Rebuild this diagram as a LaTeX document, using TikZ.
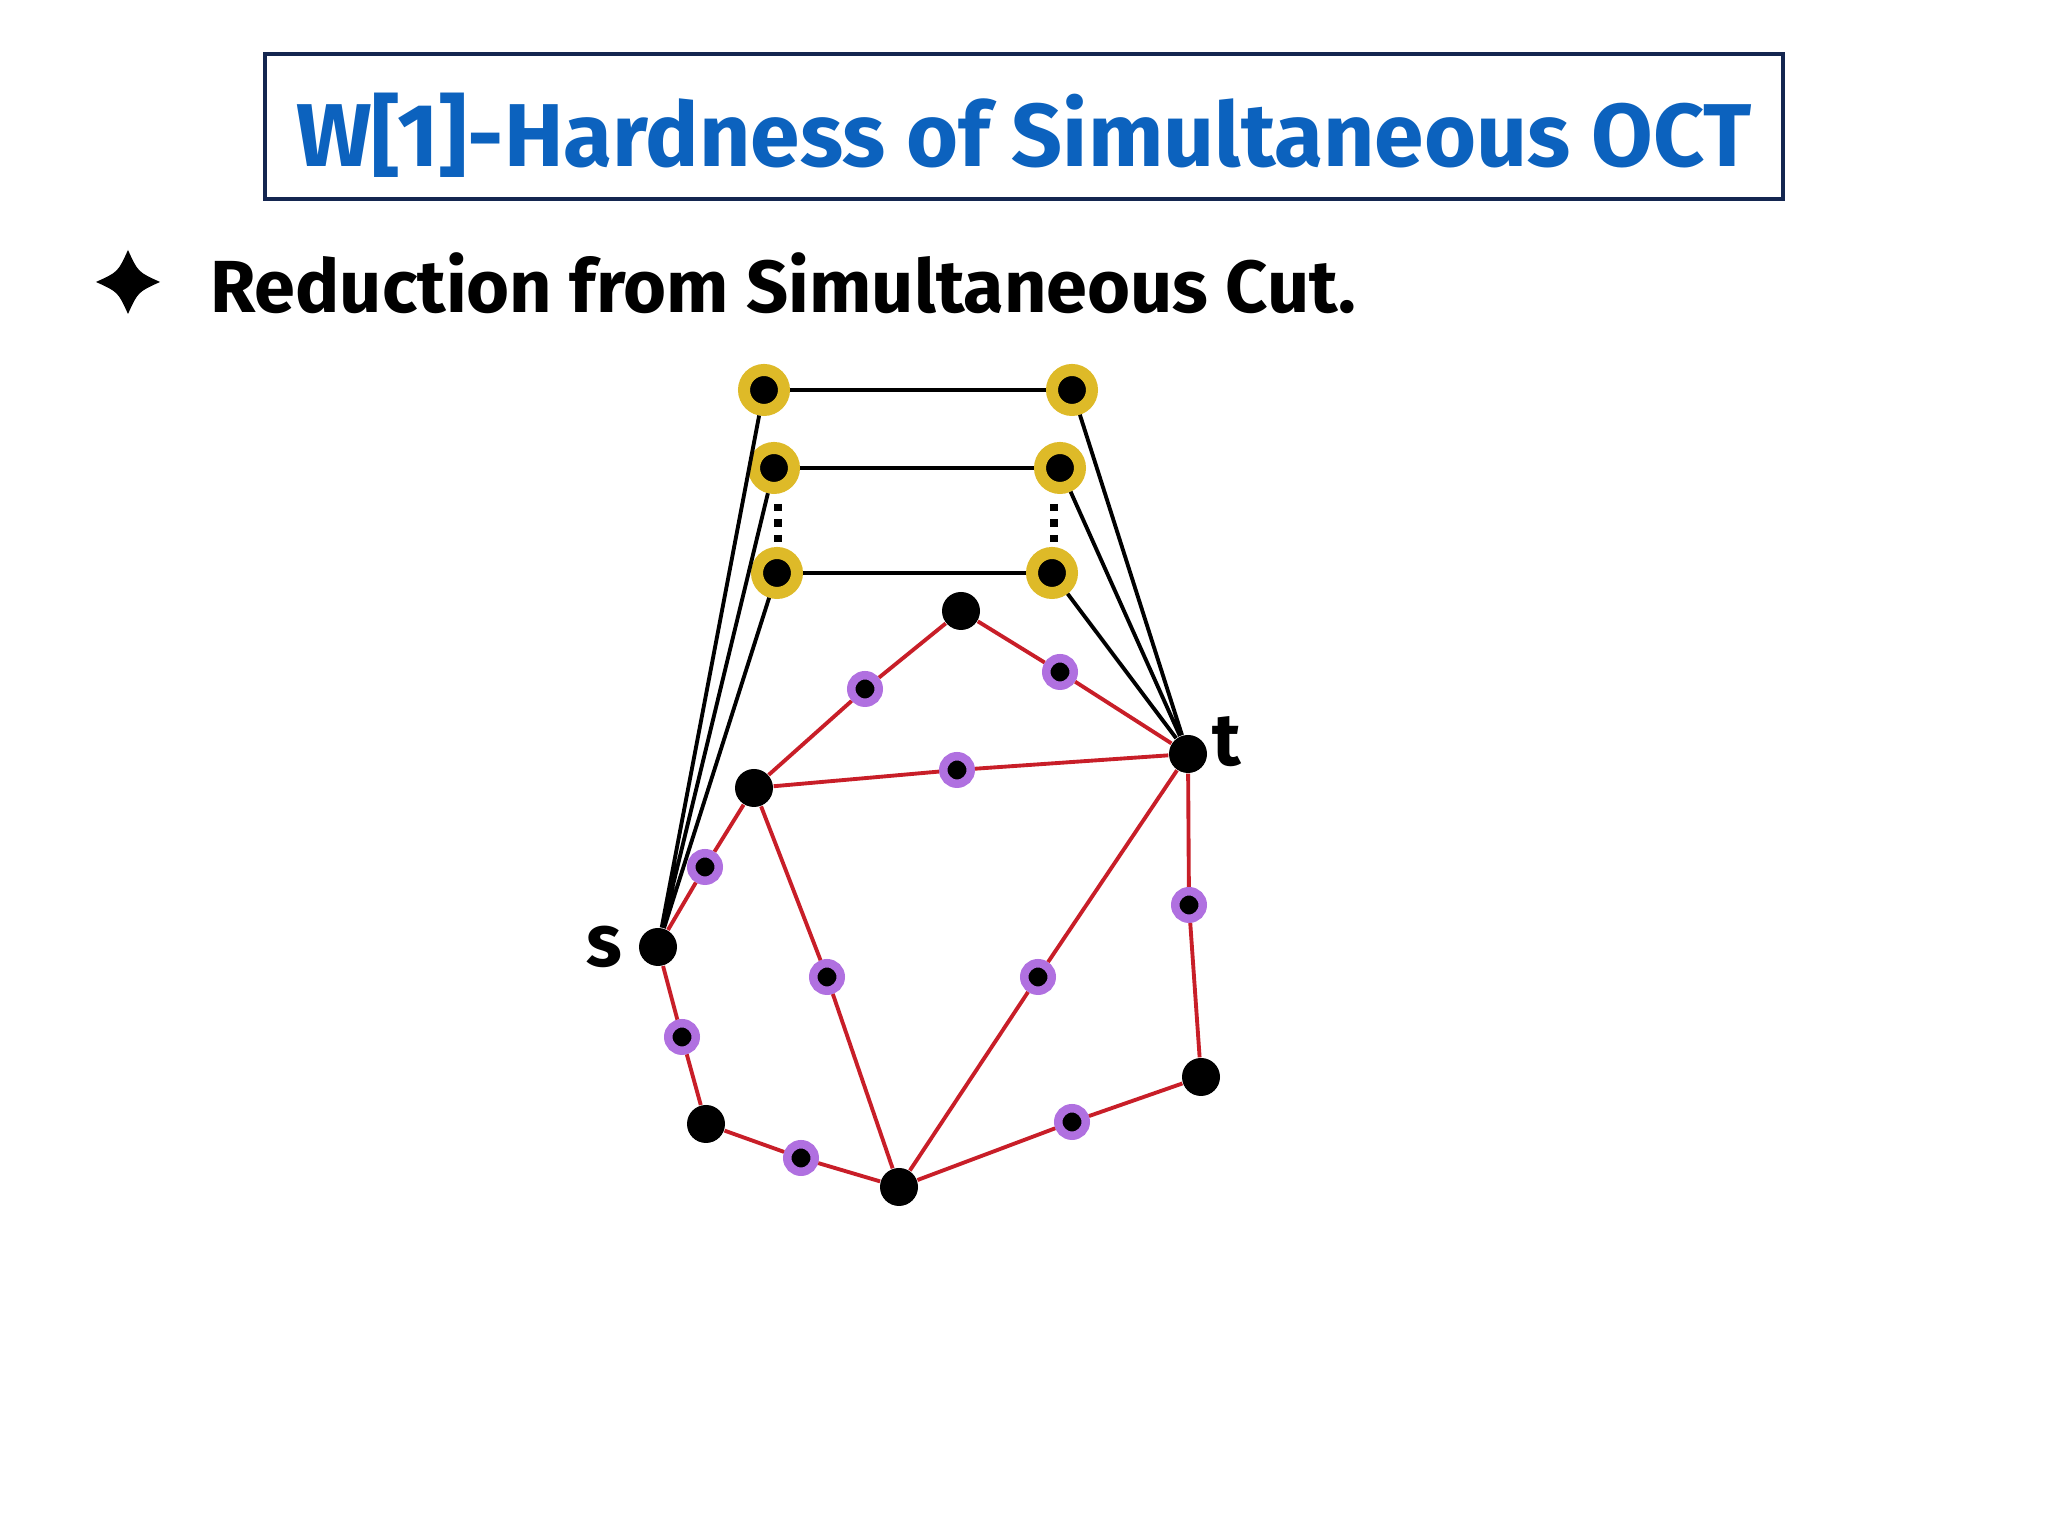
\documentclass[tikz,border=0pt]{standalone}
\usepackage{fontspec}
\setmainfont{Fira Sans}
\usetikzlibrary{positioning}
\definecolor{titleblue}{RGB}{12,98,190}
\definecolor{framenavy}{RGB}{20,38,80}
\definecolor{edgered}{RGB}{200,30,40}
\definecolor{ringgold}{RGB}{222,186,40}
\definecolor{ringpurple}{RGB}{176,112,224}
\tikzset{
    vtx/.style={circle, fill=black, inner sep=0pt, minimum size=0.38cm},
    goldvtx/.style={circle, fill=black, draw=ringgold, line width=0.12cm, inner sep=0pt, minimum size=0.40cm},
    subvtx/.style={circle, fill=black, draw=ringpurple, line width=0.085cm, inner sep=0pt, minimum size=0.275cm},
    redge/.style={draw=edgered, line width=1.1pt},
    bedge/.style={draw=black, line width=1.1pt},
    lbl/.style={inner sep=0pt, font=\fontsize{21}{25}\selectfont\bfseries}
}

\begin{document}
\begin{tikzpicture}
\useasboundingbox (0,0) rectangle (20.48,15.36);

% title
\draw[framenavy, line width=1.4pt] (2.65,13.37) rectangle (17.83,14.82);
\node[anchor=base, text=titleblue, font=\fontsize{25.4}{30}\selectfont\bfseries] (title) at (10.24,13.69) {W[1]-Hardness of Simultaneous OCT};

% bullet
\begin{scope}[shift={(1.28,12.54)}]
    \fill (0,0.32) .. controls (0.1,0.1) and (0.1,0.1) .. (0.32,0)
        .. controls (0.1,-0.1) and (0.1,-0.1) .. (0,-0.32)
        .. controls (-0.1,-0.1) and (-0.1,-0.1) .. (-0.32,0)
        .. controls (-0.1,0.1) and (-0.1,0.1) .. cycle;
\end{scope}
\node[anchor=base west, font=\fontsize{21}{25}\selectfont\bfseries] (sub) at (1.98,12.23) {Reduction from Simultaneous Cut.};

% gadget on top
\node[goldvtx] (y1l) at (7.64,11.46) {};
\node[goldvtx] (y1r) at (10.72,11.46) {};
\node[goldvtx] (y2l) at (7.74,10.68) {};
\node[goldvtx] (y2r) at (10.60,10.68) {};
\node[goldvtx] (y3l) at (7.77,9.63) {};
\node[goldvtx] (y3r) at (10.52,9.63) {};
\draw[line width=0.75mm, dash pattern=on 0.75mm off 0.8mm] (7.78,10.32) -- (7.78,9.93);
\draw[line width=0.75mm, dash pattern=on 0.75mm off 0.8mm] (10.54,10.32) -- (10.54,9.93);

% main vertices
\node[vtx] (top) at (9.61,9.25) {};
\node[vtx] (t) at (11.88,7.82) {};
\node[vtx] (mid) at (7.54,7.48) {};
\node[vtx] (s) at (6.58,5.89) {};
\node[vtx] (bl) at (7.06,4.12) {};
\node[vtx] (bot) at (8.99,3.49) {};
\node[vtx] (br) at (12.01,4.59) {};
\node[lbl, left=0.15cm of s] {s};
\node[lbl, right=0.04cm of t, yshift=0.12cm] {t};

% subdivision vertices
\node[subvtx] (m1) at (8.65,8.47) {};
\node[subvtx] (m2) at (10.60,8.64) {};
\node[subvtx] (m3) at (9.57,7.66) {};
\node[subvtx] (m4) at (7.05,6.69) {};
\node[subvtx] (m5) at (8.27,5.59) {};
\node[subvtx] (m6) at (10.38,5.59) {};
\node[subvtx] (m7) at (11.89,6.31) {};
\node[subvtx] (m8) at (6.82,4.99) {};
\node[subvtx] (m9) at (8.01,3.78) {};
\node[subvtx] (m10) at (10.72,4.14) {};

% black edges
\draw[bedge] (y1l) -- (y1r) (y2l) -- (y2r) (y3l) -- (y3r);
\draw[bedge] (y1l) -- (s) (y2l) -- (s) (y3l) -- (s);
\draw[bedge] (y1r) -- (t) (y2r) -- (t) (y3r) -- (t);

% red edges
\draw[redge] (top) -- (m1) -- (mid);
\draw[redge] (top) -- (m2) -- (t);
\draw[redge] (mid) -- (m3) -- (t);
\draw[redge] (s) -- (m4) -- (mid);
\draw[redge] (mid) -- (m5) -- (bot);
\draw[redge] (t) -- (m6) -- (bot);
\draw[redge] (t) -- (m7) -- (br);
\draw[redge] (s) -- (m8) -- (bl);
\draw[redge] (bl) -- (m9) -- (bot);
\draw[redge] (bot) -- (m10) -- (br);
\end{tikzpicture}
\end{document}
